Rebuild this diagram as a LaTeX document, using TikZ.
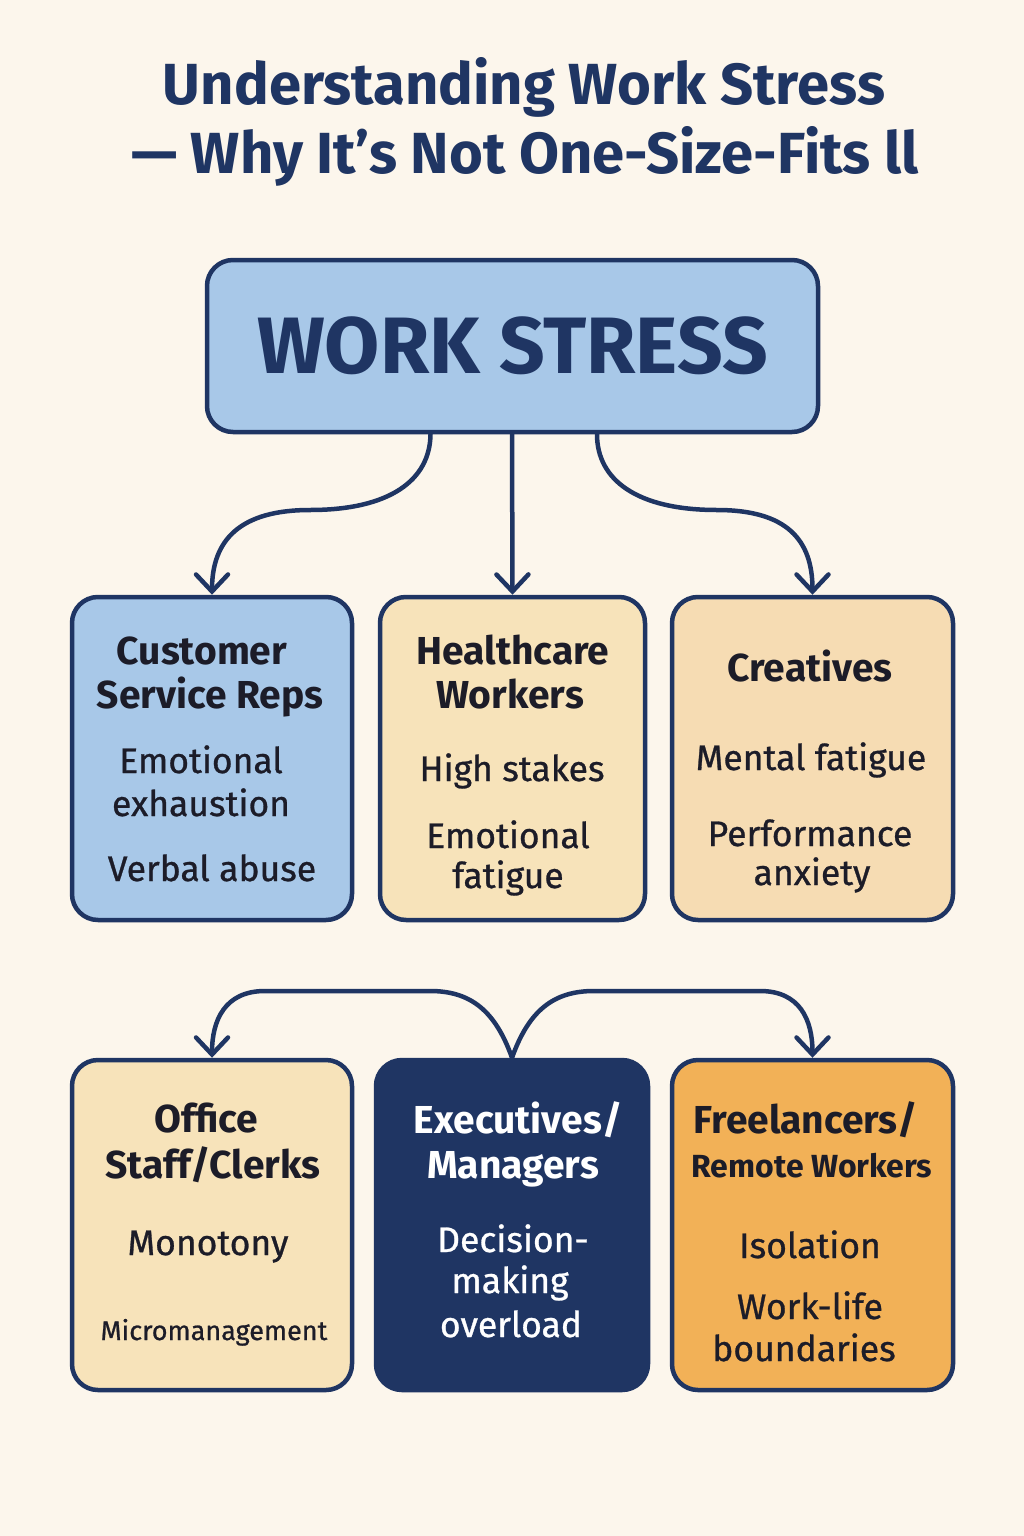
\documentclass[tikz,border=0pt]{standalone}
\usepackage{fontspec}
\setmainfont{Fira Sans}
\newfontfamily\itemf{Fira Sans}[FakeBold=0.8]
\usetikzlibrary{arrows.meta}
\definecolor{bgc}{HTML}{FCF6EC}
\definecolor{navy}{HTML}{1F3563}
\definecolor{lblue}{HTML}{A8C8E8}
\definecolor{tan}{HTML}{F7E3BA}
\definecolor{peach}{HTML}{F6DCB3}
\definecolor{orng}{HTML}{F2B157}
\definecolor{ink}{HTML}{1C1C28}
\tikzset{
  card/.style={draw=navy, line width=4.5pt, rounded corners=26pt, inner sep=0pt},
  arr/.style={draw=navy, line width=4.5pt, line cap=round, -{Straight Barb[length=17pt,width=32pt,line cap=round]}},
  hd/.style={anchor=base, text=ink, inner sep=0pt, font=\bfseries\fontsize{39}{42}\selectfont},
  it/.style={anchor=base, text=ink, inner sep=0pt, font=\itemf\fontsize{35.5}{40}\selectfont},
  ttl/.style={anchor=base, text=navy, inner sep=0pt, font=\bfseries\fontsize{58}{60}\selectfont}
}
\begin{document}
\begin{tikzpicture}[x=1pt,y=-1pt]
\useasboundingbox (0,0) rectangle (1024,1536);
\fill[bgc] (0,0) rectangle (1024,1536);
% title
\node[ttl] (t1) at (524,105) {Understanding Work Stress};
\node[ttl] (t2) at (525,173) {— Why It’s Not One-Size-Fits ll};
% main box
\node[card, fill=lblue, minimum width=611pt, minimum height=172pt, text=navy,
  font=\bfseries\fontsize{80}{84}\selectfont] (ws) at (512.5,346) {WORK STRESS};
% row 1
\node[card, fill=lblue, minimum width=280pt, minimum height=323pt] (b1) at (212,758.5) {};
\node[card, fill=tan, minimum width=265pt, minimum height=323pt] (b2) at (512.5,758.5) {};
\node[card, fill=peach, minimum width=281pt, minimum height=323pt] (b3) at (812.5,758.5) {};
% row 2
\node[card, fill=tan, minimum width=280pt, minimum height=330pt] (b4) at (212,1225) {};
\node[card, fill=navy, minimum width=272pt, minimum height=330pt] (b5) at (512,1225) {};
\node[card, fill=orng, minimum width=281pt, minimum height=330pt] (b6) at (812.5,1225) {};
% texts box 1
\node[hd] (b1h1) at (202,664) {Customer};
\node[hd] (b1h2) at (210,708) {Service Reps};
\node[it] (b1i1) at (201,773) {Emotional};
\node[it] (b1i2) at (201,816) {exhaustion};
\node[it] (b1i3) at (212,881) {Verbal abuse};
% texts box 2
\node[hd] (b2h1) at (513,664) {Healthcare};
\node[hd] (b2h2) at (510,708) {Workers};
\node[it] (b2i1) at (512,781) {High stakes};
\node[it] (b2i2) at (508,848) {Emotional};
\node[it] (b2i3) at (508,888) {fatigue};
% texts box 3
\node[hd] (b3h1) at (810,681) {Creatives};
\node[it] (b3i1) at (811,770) {Mental fatigue};
\node[it] (b3i2) at (810,846) {Performance};
\node[it] (b3i3) at (812,885) {anxiety};
% texts box 4
\node[hd] (b4h1) at (206,1132) {Office};
\node[hd] (b4h2) at (213,1178) {Staff/Clerks};
\node[it] (b4i1) at (208,1255) {Monotony};
\node[it, font=\itemf\fontsize{27}{30}\selectfont] (b4i2) at (214,1340) {Micromanagement};
% texts box 5
\node[hd, text=white] (b5h1) at (518,1133) {Executives/};
\node[hd, text=white] (b5h2) at (513,1178) {Managers};
\node[it, text=white] (b5i1) at (513,1252) {Decision-};
\node[it, text=white] (b5i2) at (510,1293) {making};
\node[it, text=white] (b5i3) at (511,1337) {overload};
% texts box 6
\node[hd] (b6h1) at (806,1133) {Freelancers/};
\node[hd, font=\bfseries\fontsize{32}{36}\selectfont] (b6h2) at (812,1177) {Remote Workers};
\node[it] (b6i1) at (810,1258) {Isolation};
\node[it] (b6i2) at (810,1319) {Work-life};
\node[it] (b6i3) at (804,1361) {boundaries};
% arrows top
\draw[arr] ([xshift=-82pt]ws.south) .. controls (430,480) and (390,510) .. (310,510)
  .. controls (240,510) and (212,540) .. (b1.north);
\draw[arr] ([xshift=-0.5pt]ws.south) -- (b2.north);
\draw[arr] ([xshift=84.5pt]ws.south) .. controls (597,480) and (637,510) .. (717,510)
  .. controls (787,510) and (812.5,540) .. (b3.north);
% arrows bottom
\draw[arr] (b5.north) .. controls (495,1010) and (470,991) .. (430,991)
  -- (265,991) .. controls (225,991) and (212,1020) .. (b4.north);
\draw[arr] (b5.north) .. controls (529,1010) and (554,991) .. (594,991)
  -- (760,991) .. controls (800,991) and (812.5,1020) .. (b6.north);
\end{tikzpicture}
\end{document}
